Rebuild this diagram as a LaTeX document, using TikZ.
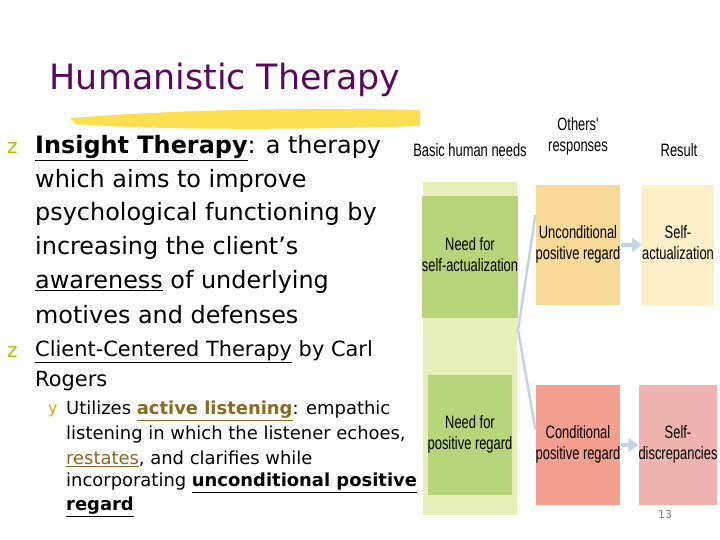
\documentclass[tikz,border=0pt]{standalone}
\usepackage{fontspec}
\usepackage{graphicx}
\setmainfont{DejaVu Sans}
\newfontfamily\dfont{Liberation Sans}
\newcommand{\myul}[1]{\underline{#1}}
\newcommand{\cnd}[1]{\scalebox{0.72}[1]{\begin{tabular}{@{}c@{}}#1\end{tabular}}}
\definecolor{ttl}{HTML}{5A0A5A}
\definecolor{bul}{HTML}{C8B400}
\definecolor{brn}{HTML}{8A6A20}
\definecolor{gpanel}{HTML}{E6F0B8}
\definecolor{gbox}{HTML}{B8D47A}
\definecolor{obox}{HTML}{F8DA98}
\definecolor{ybox}{HTML}{FBEFC8}
\definecolor{rbox}{HTML}{F4A090}
\definecolor{pbox}{HTML}{F0B4B0}
\definecolor{arr}{HTML}{C4D4E0}
\usetikzlibrary{arrows.meta}
\tikzset{
 txt/.style={anchor=west,inner sep=0pt,font=\fontsize{24}{28}\selectfont},
 sub/.style={anchor=west,inner sep=0pt,font=\fontsize{18}{21}\selectfont},
 bl/.style={anchor=west,inner sep=0pt,text=bul,font=\fontsize{20}{22}\selectfont},
 dbox/.style={draw=none,align=center,inner sep=0pt,font=\dfont\fontsize{18}{21}\selectfont},
 hdr/.style={align=center,inner sep=0pt,font=\dfont\fontsize{18}{21}\selectfont},
 fat/.style={draw=arr,line width=5pt,-{Triangle[width=14pt,length=10pt]}}
}
\begin{document}
\begin{tikzpicture}[x=1bp,y=-1bp]
\useasboundingbox (0,0) rectangle (720,540);
\fill[white] (0,0) rectangle (720,540);
\fill[yellow!70!orange!80, opacity=0.85] (70,118) .. controls (200,108) and (330,108) .. (420,110) -- (420,126) .. controls (300,130) and (150,130) .. (75,124) -- cycle;
\node[anchor=center,text=ttl,font=\fontsize{35}{40}\selectfont] (title) at (225,80) {Humanistic Therapy};
\node[bl] (b1) at (7,148) {z};
\node[txt] (l1) at (35,148) {\textbf{\myul{Insight Therapy}}: a therapy};
\node[txt] (l2) at (35,181) {which aims to improve};
\node[txt] (l3) at (35,214) {psychological functioning by};
\node[txt] (l4) at (35,248) {increasing the client’s};
\node[txt] (l5) at (35,282) {\myul{awareness} of underlying};
\node[txt] (l6) at (35,315) {motives and defenses};
\node[bl] (b2) at (7,352) {z};
\node[txt,font=\fontsize{21}{24}\selectfont] (l7) at (35,352) {\myul{Client-Centered Therapy} by Carl};
\node[txt,font=\fontsize{21}{24}\selectfont] (l8) at (35,381) {Rogers};
\node[bl,font=\fontsize{16}{18}\selectfont] (b3) at (48,411) {y};
\node[sub] (s1) at (66,411) {Utilizes \textcolor{brn}{\textbf{\myul{active listening}}}: empathic};
\node[sub] (s2) at (66,435) {listening in which the listener echoes,};
\node[sub] (s3) at (66,459) {\textcolor{brn}{\myul{restates}}, and clarifies while};
\node[sub] (s4) at (66,483) {incorporating \textbf{\myul{unconditional positive}}};
\node[sub] (s5) at (66,507) {\textbf{\myul{regard}}};
\node[hdr] (h1) at (470,152) {\cnd{Basic human needs}};
\node[hdr] (h2) at (578,137) {\cnd{Others'\\responses}};
\node[hdr] (h3) at (679,152) {\cnd{Result}};
\fill[gpanel] (423,182) rectangle (517,515);
\node[dbox,fill=gbox,minimum width=84bp,minimum height=121bp] (n1) at (470,257) {\cnd{Need for\\self-actualization}};
\node[dbox,fill=gbox,minimum width=84bp,minimum height=120bp] (n2) at (470,435) {\cnd{Need for\\positive regard}};
\node[dbox,fill=obox,minimum width=72bp,minimum height=120bp] (u) at (578,245) {\cnd{Unconditional\\positive regard}};
\node[dbox,fill=ybox,minimum width=67bp,minimum height=120bp] (sa) at (678,245) {\cnd{Self-\\actualization}};
\node[dbox,fill=rbox,minimum width=72bp,minimum height=120bp] (c) at (578,445) {\cnd{Conditional\\positive regard}};
\node[dbox,fill=pbox,minimum width=67bp,minimum height=120bp] (sd) at (678,445) {\cnd{Self-\\discrepancies}};
\coordinate (j) at (518,330);
\draw[arr,line width=2.5pt] (u.west|-0,215) -- (j) -- (c.west|-0,430);
\draw[fat] (u.east) -- (sa.west);
\draw[fat] (c.east) -- (sd.west);
\node[font=\fontsize{11}{12}\selectfont,text=gray] (pg) at (665,515) {13};
\end{tikzpicture}
\end{document}
